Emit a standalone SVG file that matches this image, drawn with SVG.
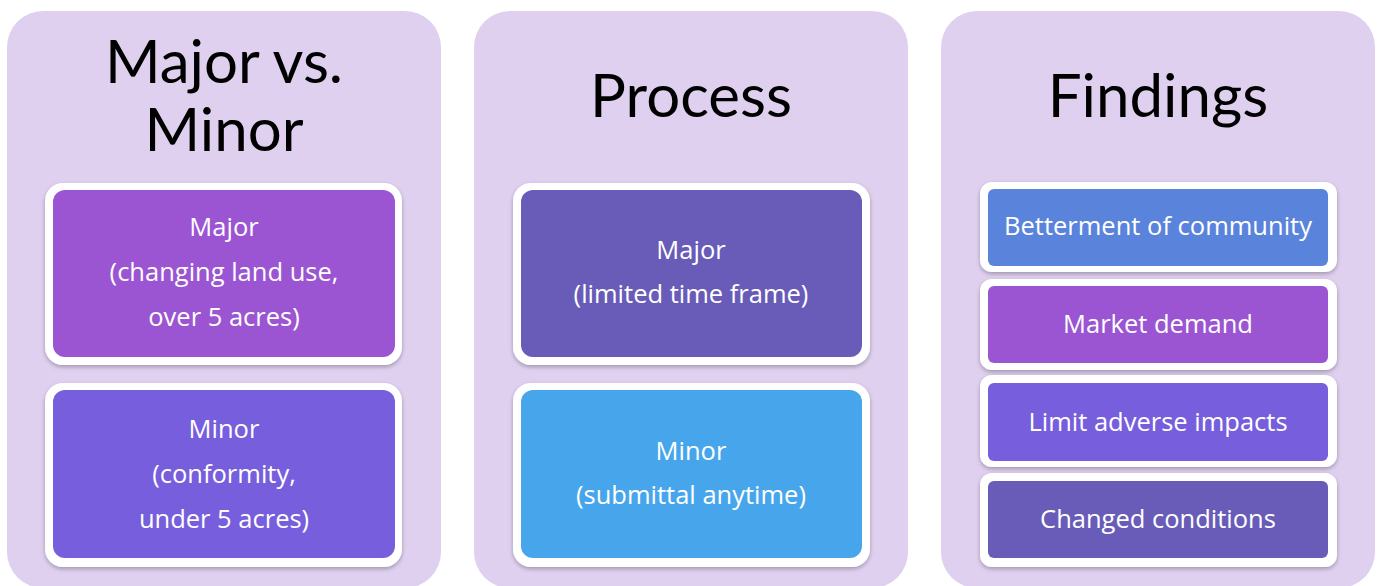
<svg xmlns="http://www.w3.org/2000/svg" width="1378" height="586" viewBox="0 0 1378 586">
<defs>
<filter id="sh" x="-10%" y="-10%" width="120%" height="130%">
<feDropShadow dx="0" dy="2" stdDeviation="2" flood-color="#000" flood-opacity="0.28"/>
</filter>
</defs>
<style>
.panel{fill:#DFD0EF}
.title{font-family:Lato,"Open Sans",sans-serif;font-size:60px;fill:#000;text-anchor:middle}
.frame{fill:#fff;filter:url(#sh)}
.lbl{font-family:"Open Sans",Lato,sans-serif;font-size:25.5px;fill:#fff;text-anchor:middle}
</style>
<rect width="1378" height="586" fill="#fff"/>
<g id="panel-major-minor">
<rect class="panel" x="7" y="11" width="434" height="577" rx="36"/>
<text class="title" x="224" y="83">Major vs.</text>
<text class="title" x="224" y="151">Minor</text>
</g>
<g id="panel-process">
<rect class="panel" x="474" y="11" width="434" height="577" rx="36"/>
<text class="title" x="691" y="117">Process</text>
</g>
<g id="panel-findings">
<rect class="panel" x="941" y="11" width="434" height="577" rx="36"/>
<text class="title" x="1158" y="117">Findings</text>
</g>
<g id="node-major-1">
<rect class="frame" x="45" y="183" width="357" height="182" rx="18"/>
<rect x="53" y="190" width="342" height="167" rx="12" fill="#9B55D2"/>
<text class="lbl" x="224" y="236">Major</text>
<text class="lbl" x="224" y="281">(changing land use,</text>
<text class="lbl" x="224" y="326">over 5 acres)</text>
</g>
<g id="node-minor-1">
<rect class="frame" x="45" y="383" width="357" height="184" rx="18"/>
<rect x="53" y="390" width="342" height="168" rx="12" fill="#765EDC"/>
<text class="lbl" x="224" y="438">Minor</text>
<text class="lbl" x="224" y="483">(conformity,</text>
<text class="lbl" x="224" y="528">under 5 acres)</text>
</g>
<g id="node-major-2">
<rect class="frame" x="513" y="183" width="357" height="182" rx="18"/>
<rect x="521" y="190" width="341" height="167" rx="12" fill="#685CB8"/>
<text class="lbl" x="691" y="259">Major</text>
<text class="lbl" x="691" y="303">(limited time frame)</text>
</g>
<g id="node-minor-2">
<rect class="frame" x="513" y="383" width="357" height="184" rx="18"/>
<rect x="521" y="390" width="341" height="168" rx="12" fill="#47A6EB"/>
<text class="lbl" x="691" y="460">Minor</text>
<text class="lbl" x="691" y="504">(submittal anytime)</text>
</g>
<g id="node-betterment">
<rect class="frame" x="980" y="182" width="357" height="90" rx="12"/>
<rect x="988" y="189" width="340" height="77" rx="6" fill="#5A84DB"/>
<text class="lbl" x="1158" y="235">Betterment of community</text>
</g>
<g id="node-market">
<rect class="frame" x="980" y="279" width="357" height="91" rx="12"/>
<rect x="988" y="286" width="340" height="77" rx="6" fill="#9B55D2"/>
<text class="lbl" x="1158" y="333">Market demand</text>
</g>
<g id="node-limit">
<rect class="frame" x="980" y="375" width="357" height="92" rx="12"/>
<rect x="988" y="383" width="340" height="78" rx="6" fill="#775EDC"/>
<text class="lbl" x="1158" y="431">Limit adverse impacts</text>
</g>
<g id="node-changed">
<rect class="frame" x="980" y="473" width="357" height="94" rx="12"/>
<rect x="988" y="481" width="340" height="77" rx="6" fill="#685CB8"/>
<text class="lbl" x="1158" y="528">Changed conditions</text>
</g>
<g id="connectors"/>
</svg>
